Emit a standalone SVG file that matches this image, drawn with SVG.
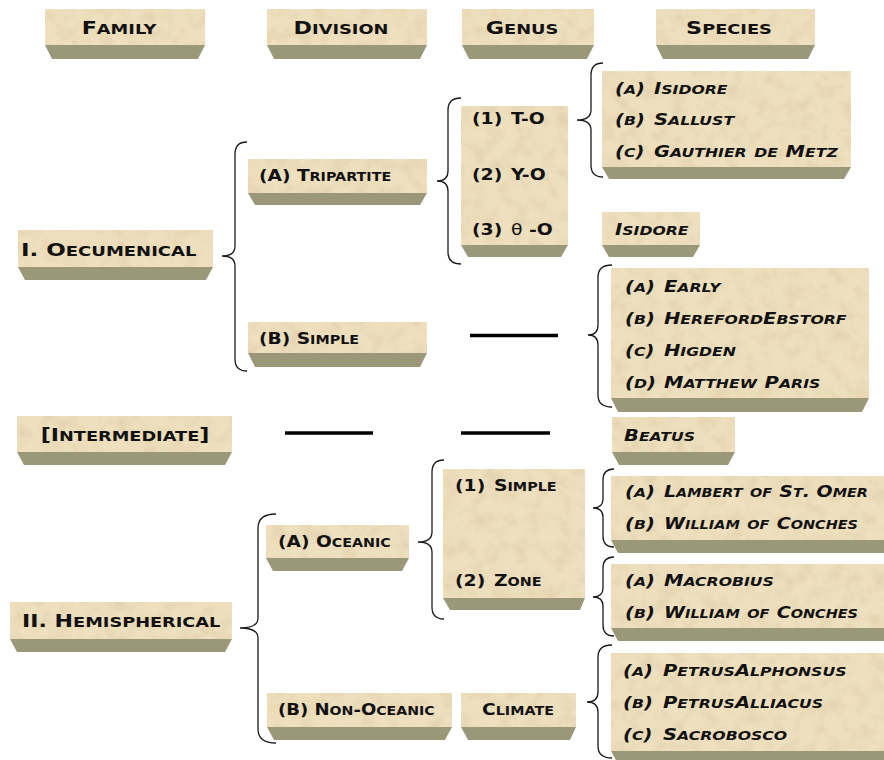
<svg xmlns="http://www.w3.org/2000/svg" width="884" height="760" viewBox="0 0 884 760">
<defs>
<filter id="noise" filterUnits="userSpaceOnUse" x="0" y="0" width="884" height="760">
<feTurbulence type="fractalNoise" baseFrequency="0.07" numOctaves="4" seed="7"/>
<feColorMatrix type="matrix" values="0 0 0 0 0.74  0 0 0 0 0.60  0 0 0 0 0.38  1.3 0 0 0 -0.5"/>
</filter>
<pattern id="tex" patternUnits="userSpaceOnUse" x="0" y="0" width="884" height="760">
<rect width="884" height="760" fill="#eee0bf"/>
<rect width="884" height="760" fill="#fff" filter="url(#noise)"/>
</pattern>
</defs>
<style>
.top{fill:url(#tex)}
.sh{fill:#9a9879}
.t{font-family:"DejaVu Sans","Liberation Sans",sans-serif;font-weight:bold;font-variant:small-caps;fill:#111}
.b{font-size:19.5px}
.s{font-size:16.7px}
.c{font-size:90%}
.n{font-variant:normal;font-weight:normal}
.i{font-style:italic}
.m{text-anchor:middle}
.br{fill:none;stroke:#1a1a1a;stroke-width:1.3}
.ln{stroke:#000;stroke-width:3.5}
</style>
<rect width="884" height="760" fill="#fff"/>

<g id="connectors">
<path class="br" d="M247,142 Q235,142 235,154 L235,246 Q235,256 222,256 Q235,256 235,266 L235,359 Q235,371 247,371"/>
<path class="br" d="M461,98 Q448,98 448,110 L448,171 Q448,181 437,181 Q448,181 448,191 L448,252 Q448,264 461,264"/>
<path class="br" d="M603,63 Q591,63 591,75 L591,110 Q591,120 577,120 Q591,120 591,130 L591,165 Q591,177 603,177"/>
<path class="br" d="M612,265 Q598,265 598,277 L598,325 Q598,335 588,335 Q598,335 598,345 L598,395 Q598,407 612,407"/>
<path class="br" d="M276,514 Q258,514 258,528 L258,618 Q258,628 240,628 Q258,628 258,638 L258,729 Q258,743 276,743"/>
<path class="br" d="M444,460 Q432,460 432,472 L432,532 Q432,542 418,542 Q432,542 432,552 L432,607 Q432,619 444,619"/>
<path class="br" d="M614,469 Q603,469 603,480 L603,499 Q603,508 593,508 Q603,508 603,517 L603,536 Q603,547 614,547"/>
<path class="br" d="M614,557 Q603,557 603,568 L603,588 Q603,597 593,597 Q603,597 603,606 L603,625 Q603,636 614,636"/>
<path class="br" d="M612,645 Q598,645 598,657 L598,692 Q598,702 587,702 Q598,702 598,712 L598,746 Q598,758 612,758"/>
<line class="ln" x1="470" y1="335.5" x2="558" y2="335.5"/>
<line class="ln" x1="285" y1="433" x2="373" y2="433"/>
<line class="ln" x1="461" y1="433" x2="550" y2="433"/>
</g>

<g id="hdr-family">
<rect class="top" x="45" y="9" width="160" height="36"/>
<polygon class="sh" points="45,45 205,45 198,59 52,59"/>
<text class="t b m" transform="translate(119,34) scale(1.27,1)"><tspan class="c">F</tspan>amily</text>
</g>
<g id="hdr-division">
<rect class="top" x="267" y="9" width="160" height="36"/>
<polygon class="sh" points="267,45 427,45 420,59 274,59"/>
<text class="t b m" transform="translate(341,34) scale(1.27,1)"><tspan class="c">D</tspan>ivision</text>
</g>
<g id="hdr-genus">
<rect class="top" x="462" y="9" width="132" height="36"/>
<polygon class="sh" points="462,45 594,45 587,59 469,59"/>
<text class="t b m" transform="translate(522,34) scale(1.27,1)"><tspan class="c">G</tspan>enus</text>
</g>
<g id="hdr-species">
<rect class="top" x="656" y="9" width="159" height="36"/>
<polygon class="sh" points="656,45 815,45 808,59 663,59"/>
<text class="t b m" transform="translate(729,34) scale(1.27,1)"><tspan class="c">S</tspan>pecies</text>
</g>

<g id="oecumenical">
<rect class="top" x="18" y="230" width="195" height="37"/>
<polygon class="sh" points="18,267 213,267 206,280 25,280"/>
<text class="t b" transform="translate(21,256) scale(1.31,1)"><tspan class="c">I. O</tspan>ecumenical</text>
</g>
<g id="tripartite">
<rect class="top" x="248" y="159" width="179" height="34"/>
<polygon class="sh" points="248,193 427,193 420,205 255,205"/>
<text class="t s" transform="translate(259,181) scale(1.24,1)"><tspan class="c">(A) T</tspan>ripartite</text>
</g>
<g id="oec-simple">
<rect class="top" x="248" y="322" width="179" height="31"/>
<polygon class="sh" points="248,353 427,353 420,367 255,367"/>
<text class="t s" transform="translate(259,344) scale(1.24,1)"><tspan class="c">(B) S</tspan>imple</text>
</g>
<g id="genus-to">
<rect class="top" x="461" y="106" width="107" height="139"/>
<polygon class="sh" points="461,245 568,245 561,257 468,257"/>
<text class="t s" transform="translate(472,124) scale(1.25,1)"><tspan class="c">(1)</tspan></text>
<text class="t s" transform="translate(511,124) scale(1.25,1)"><tspan class="c">T-O</tspan></text>
<text class="t s" transform="translate(472,180) scale(1.25,1)"><tspan class="c">(2)</tspan></text>
<text class="t s" transform="translate(511,180) scale(1.25,1)"><tspan class="c">Y-O</tspan></text>
<text class="t s" transform="translate(472,235) scale(1.25,1)"><tspan class="c">(3)</tspan></text>
<text class="t s" transform="translate(511,235) scale(1.25,1)"><tspan class="c n">θ</tspan><tspan class="c"> -O</tspan></text>
</g>
<g id="species-tripartite">
<rect class="top" x="602" y="71" width="249" height="96"/>
<polygon class="sh" points="602,167 851,167 844,179 609,179"/>
<text class="t s i" transform="translate(615,94) scale(1.3,1)"><tspan class="c">(</tspan>a<tspan class="c">)</tspan></text>
<text class="t s i" transform="translate(654,94) scale(1.3,1)"><tspan class="c">I</tspan>sidore</text>
<text class="t s i" transform="translate(615,125) scale(1.3,1)"><tspan class="c">(</tspan>b<tspan class="c">)</tspan></text>
<text class="t s i" transform="translate(654,125) scale(1.3,1)"><tspan class="c">S</tspan>allust</text>
<text class="t s i" transform="translate(615,157) scale(1.3,1)"><tspan class="c">(</tspan>c<tspan class="c">)</tspan></text>
<text class="t s i" transform="translate(654,157) scale(1.3,1)"><tspan class="c">G</tspan>authier de <tspan class="c">M</tspan>etz</text>
</g>
<g id="species-isidore">
<rect class="top" x="602" y="212" width="98" height="33"/>
<polygon class="sh" points="602,245 700,245 693,257 609,257"/>
<text class="t s i" transform="translate(615,235) scale(1.3,1)"><tspan class="c">I</tspan>sidore</text>
</g>
<g id="species-simple">
<rect class="top" x="611" y="268" width="258" height="130"/>
<polygon class="sh" points="611,398 869,398 862,412 618,412"/>
<text class="t s i" transform="translate(625,292) scale(1.3,1)"><tspan class="c">(</tspan>a<tspan class="c">)</tspan></text>
<text class="t s i" transform="translate(664,292) scale(1.3,1)"><tspan class="c">E</tspan>arly</text>
<text class="t s i" transform="translate(625,324) scale(1.3,1)"><tspan class="c">(</tspan>b<tspan class="c">)</tspan></text>
<text class="t s i" transform="translate(664,324) scale(1.3,1)"><tspan class="c">H</tspan>ereford<tspan class="c">E</tspan>bstorf</text>
<text class="t s i" transform="translate(625,356) scale(1.3,1)"><tspan class="c">(</tspan>c<tspan class="c">)</tspan></text>
<text class="t s i" transform="translate(664,356) scale(1.3,1)"><tspan class="c">H</tspan>igden</text>
<text class="t s i" transform="translate(625,388) scale(1.3,1)"><tspan class="c">(</tspan>d<tspan class="c">)</tspan></text>
<text class="t s i" transform="translate(664,388) scale(1.3,1)"><tspan class="c">M</tspan>atthew <tspan class="c">P</tspan>aris</text>
</g>

<g id="intermediate">
<rect class="top" x="17" y="416" width="215" height="36"/>
<polygon class="sh" points="17,452 232,452 225,465 24,465"/>
<text class="t b m" transform="translate(125,441) scale(1.26,1)"><tspan class="c">[I</tspan>ntermediate<tspan class="c">]</tspan></text>
</g>
<g id="beatus">
<rect class="top" x="612" y="417" width="123" height="35"/>
<polygon class="sh" points="612,452 735,452 728,465 619,465"/>
<text class="t s i" transform="translate(624,441) scale(1.3,1)"><tspan class="c">B</tspan>eatus</text>
</g>

<g id="hemispherical">
<rect class="top" x="10" y="602" width="222" height="37"/>
<polygon class="sh" points="10,639 232,639 225,652 17,652"/>
<text class="t b" transform="translate(22,627) scale(1.26,1)"><tspan class="c">II. H</tspan>emispherical</text>
</g>
<g id="oceanic">
<rect class="top" x="266" y="525" width="143" height="33"/>
<polygon class="sh" points="266,558 409,558 402,571 273,571"/>
<text class="t s" transform="translate(278,547) scale(1.24,1)"><tspan class="c">(A) O</tspan>ceanic</text>
</g>
<g id="genus-simple-zone">
<rect class="top" x="443" y="469" width="142" height="129"/>
<polygon class="sh" points="443,598 585,598 580,610 450,610"/>
<text class="t s" transform="translate(455,491) scale(1.25,1)"><tspan class="c">(1)</tspan></text>
<text class="t s" transform="translate(494,491) scale(1.25,1)"><tspan class="c">S</tspan>imple</text>
<text class="t s" transform="translate(455,586) scale(1.25,1)"><tspan class="c">(2)</tspan></text>
<text class="t s" transform="translate(494,586) scale(1.25,1)"><tspan class="c">Z</tspan>one</text>
</g>
<g id="species-oceanic-simple">
<rect class="top" x="611" y="476" width="273" height="64"/>
<polygon class="sh" points="611,540 884,540 884,553 618,553"/>
<text class="t s i" transform="translate(625,497) scale(1.3,1)"><tspan class="c">(</tspan>a<tspan class="c">)</tspan></text>
<text class="t s i" transform="translate(664,497) scale(1.26,1)"><tspan class="c">L</tspan>ambert of <tspan class="c">S</tspan>t<tspan class="c">. O</tspan>mer</text>
<text class="t s i" transform="translate(625,529) scale(1.3,1)"><tspan class="c">(</tspan>b<tspan class="c">)</tspan></text>
<text class="t s i" transform="translate(664,529) scale(1.27,1)"><tspan class="c">W</tspan>illiam of <tspan class="c">C</tspan>onches</text>
</g>
<g id="species-zone">
<rect class="top" x="611" y="564" width="273" height="64"/>
<polygon class="sh" points="611,628 884,628 884,641 618,641"/>
<text class="t s i" transform="translate(625,586) scale(1.3,1)"><tspan class="c">(</tspan>a<tspan class="c">)</tspan></text>
<text class="t s i" transform="translate(664,586) scale(1.3,1)"><tspan class="c">M</tspan>acrobius</text>
<text class="t s i" transform="translate(625,618) scale(1.3,1)"><tspan class="c">(</tspan>b<tspan class="c">)</tspan></text>
<text class="t s i" transform="translate(664,618) scale(1.27,1)"><tspan class="c">W</tspan>illiam of <tspan class="c">C</tspan>onches</text>
</g>
<g id="non-oceanic">
<rect class="top" x="267" y="693" width="185" height="34"/>
<polygon class="sh" points="267,727 452,727 445,740 274,740"/>
<text class="t s" transform="translate(278,715) scale(1.2,1)"><tspan class="c">(B) N</tspan>on<tspan class="c">-O</tspan>ceanic</text>
</g>
<g id="climate">
<rect class="top" x="461" y="693" width="115" height="34"/>
<polygon class="sh" points="461,727 576,727 570,740 468,740"/>
<text class="t s m" transform="translate(518,715) scale(1.24,1)"><tspan class="c">C</tspan>limate</text>
</g>
<g id="species-climate">
<rect class="top" x="611" y="653" width="273" height="98"/>
<polygon class="sh" points="611,751 884,751 884,764 618,764"/>
<text class="t s i" transform="translate(623,676) scale(1.3,1)"><tspan class="c">(</tspan>a<tspan class="c">)</tspan></text>
<text class="t s i" transform="translate(663,676) scale(1.3,1)"><tspan class="c">P</tspan>etrus<tspan class="c">A</tspan>lphonsus</text>
<text class="t s i" transform="translate(623,708) scale(1.3,1)"><tspan class="c">(</tspan>b<tspan class="c">)</tspan></text>
<text class="t s i" transform="translate(663,708) scale(1.3,1)"><tspan class="c">P</tspan>etrus<tspan class="c">A</tspan>lliacus</text>
<text class="t s i" transform="translate(623,740) scale(1.3,1)"><tspan class="c">(</tspan>c<tspan class="c">)</tspan></text>
<text class="t s i" transform="translate(663,740) scale(1.3,1)"><tspan class="c">S</tspan>acrobosco</text>
</g>
</svg>
